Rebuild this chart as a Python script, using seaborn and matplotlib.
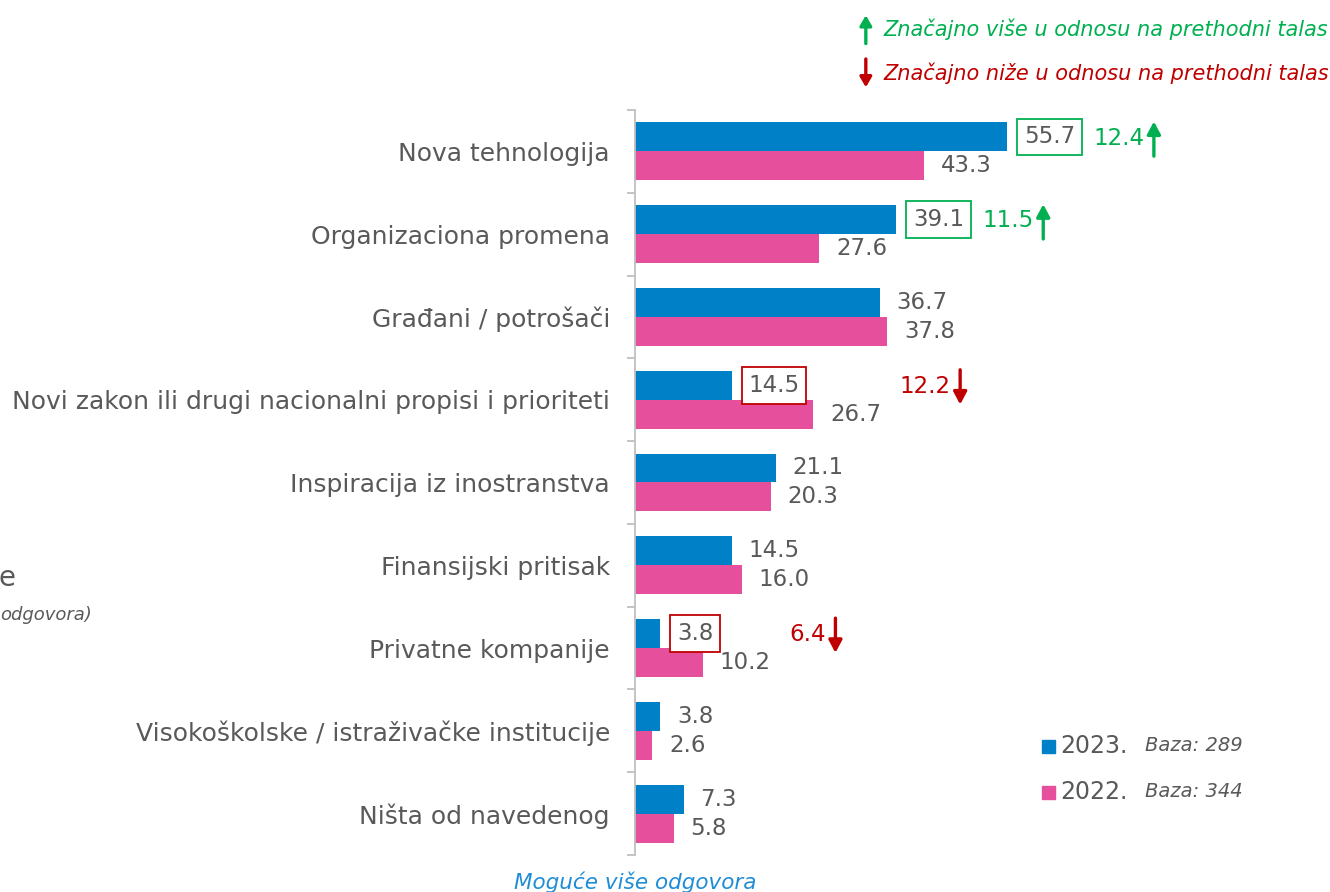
import numpy as np
import pandas as pd
import matplotlib
matplotlib.use("Agg")
import matplotlib.pyplot as plt
from matplotlib.patches import Rectangle, FancyArrowPatch
from matplotlib.text import OffsetFrom
import seaborn as sns

# data
categories = ["Nova tehnologija", "Organizaciona promena", "Građani / potrošači",
              "Novi zakon ili drugi nacionalni propisi i prioriteti",
              "Inspiracija iz inostranstva", "Finansijski pritisak",
              "Privatne kompanije", "Visokoškolske / istraživačke institucije",
              "Ništa od navedenog"]
vals_2023 = [55.7, 39.1, 36.7, 14.5, 21.1, 14.5, 3.8, 3.8, 7.3]
vals_2022 = [43.3, 27.6, 37.8, 26.7, 20.3, 16.0, 10.2, 2.6, 5.8]
signif = ["up", "up", None, "down", None, None, "down", None, None]
years = ["2023.", "2022."]
bases = ["Baza: 289", "Baza: 344"]

BLUE = "#0080C6"
PINK = "#E54F9B"
GREEN = "#00B050"
RED = "#C00000"
GREY = "#595959"

df = pd.DataFrame({
    "kategorija": categories * 2,
    "vrednost": vals_2023 + vals_2022,
    "godina": [years[0]] * len(categories) + [years[1]] * len(categories),
})

sns.set_style("white")
plt.rcParams["font.family"] = ["DejaVu Sans"]

fig = plt.figure(figsize=(13.3, 8.92), dpi=100)
ax = fig.add_axes([0.4774, 0.0415, 0.5023, 0.8352])

sns.barplot(data=df, y="kategorija", x="vrednost", hue="godina", hue_order=years,
            order=categories, palette=[BLUE, PINK], width=0.7, orient="h",
            saturation=1, linewidth=0, legend=False, ax=ax)

ax.set_xlim(0, 100)
ax.set_ylim(len(categories) - 0.5, -0.5)
ax.set_xlabel("")
ax.set_ylabel("")
ax.set_xticks([])
for s in ["top", "right", "bottom"]:
    ax.spines[s].set_visible(False)
ax.spines["left"].set_color("#BFBFBF")
ax.spines["left"].set_linewidth(1.3)
ax.set_yticks(np.arange(len(categories)))
ax.set_yticklabels(categories, fontsize=18, color=GREY)
ax.tick_params(axis="y", which="major", left=False, length=0, pad=18)
ax.set_yticks(np.arange(len(categories) + 1) - 0.5, minor=True)
ax.tick_params(axis="y", which="minor", left=True, length=6, width=1.3,
               color="#BFBFBF", direction="out")

# value labels
for ci, cont in enumerate(ax.containers):
    for i, bar in enumerate(cont):
        w = bar.get_width()
        yc = bar.get_y() + bar.get_height() / 2
        bbox = None
        if ci == 0 and signif[i] is not None:
            ec = GREEN if signif[i] == "up" else RED
            bbox = dict(boxstyle="square,pad=0.3", fc="white", ec=ec, lw=1.3)
        ax.annotate(f"{w:.1f}", xy=(w, yc), xytext=(12, 0), textcoords="offset points",
                    ha="left", va="center", fontsize=16.5, color=GREY, bbox=bbox)

# difference labels with arrows
for i, s in enumerate(signif):
    if s is None:
        continue
    col = GREEN if s == "up" else RED
    diff = abs(vals_2023[i] - vals_2022[i])
    yc = i - 0.16
    t = ax.annotate(f"{diff:.1f}", xy=(max(vals_2023[i], vals_2022[i]), yc),
                    xytext=(62, 0), textcoords="offset points",
                    ha="left", va="center", fontsize=16.5, color=col)
    tail, head = (-13, 12) if s == "up" else (12, -13)
    ax.annotate("", xy=(7, head), xycoords=OffsetFrom(t, (1, 0.5), "points"),
                xytext=(7, tail), textcoords=OffsetFrom(t, (1, 0.5), "points"),
                arrowprops=dict(arrowstyle="-|>,head_length=0.75,head_width=0.4",
                                color=col, lw=2.4, shrinkA=0, shrinkB=0))

# significance key at top
for yk, txt, col, up in [(0.967, "Značajno više u odnosu na prethodni talas", GREEN, True),
                         (0.918, "Značajno niže u odnosu na prethodni talas", RED, False)]:
    y0, y1 = (yk - 0.019, yk + 0.019) if up else (yk + 0.019, yk - 0.019)
    fig.patches.append(FancyArrowPatch(
        (0.651, y0), (0.651, y1), transform=fig.transFigure,
        arrowstyle="-|>,head_length=6,head_width=3.5", color=col, lw=2.4))
    fig.text(0.664, yk, txt, fontsize=15, style="italic", color=col, va="center", ha="left")

# year legend
for k, (yr, base, col) in enumerate(zip(years, bases, [BLUE, PINK])):
    yl = 1 - (746 + 46 * k) / 892
    fig.patches.append(Rectangle((1042 / 1330, yl - 0.0075), 13 / 1330, 13 / 892,
                                 transform=fig.transFigure, color=col))
    fig.text(1060 / 1330, yl, yr, fontsize=17, color=GREY, va="center", ha="left")
    fig.text(1145 / 1330, yl + 0.001, base, fontsize=14, style="italic", color=GREY,
             va="center", ha="left")

# clipped slide remnants on the left
fig.text(-0.001, 1 - 578 / 892, "e", fontsize=20, color=GREY, va="center", ha="left")
fig.text(0.0, 1 - 615 / 892, "odgovora)", fontsize=13, style="italic", color=GREY,
         va="center", ha="left")

fig.text(635 / 1330, 1 - 882 / 892, "Moguće više odgovora", fontsize=15.5, style="italic",
         color="#1F8DD6", va="center", ha="center")

fig.savefig("out.png", dpi=100)
